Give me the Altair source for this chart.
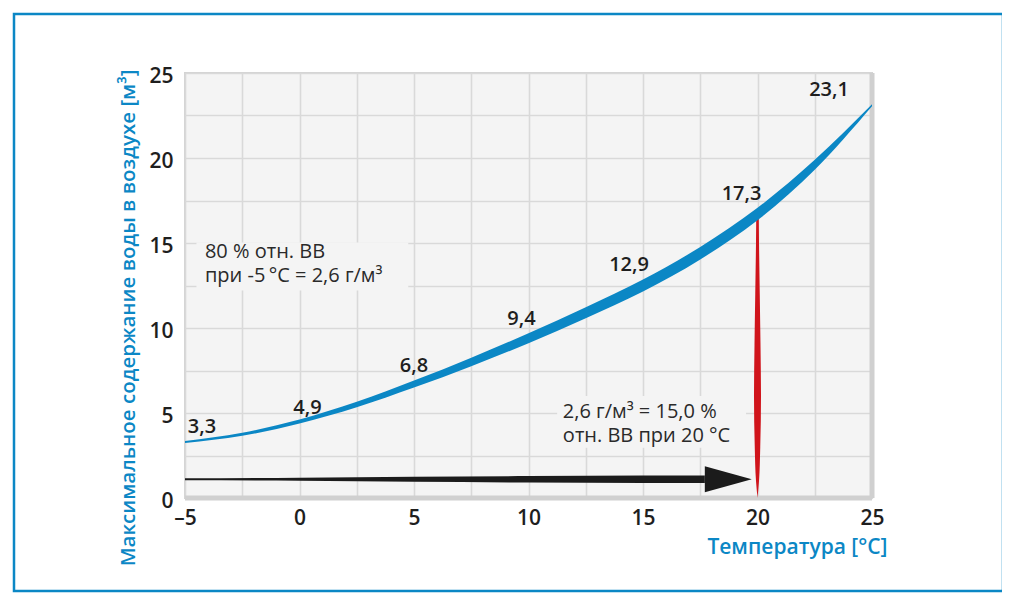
import altair as alt
import pandas as pd

# ---------------- data ----------------
TEMPS = [-5, -2.5, 0, 2.5, 5, 7.5, 10, 12.5, 15, 17.5, 20, 22.5, 25]
CURVE = [3.3, 3.75, 4.5, 5.5, 6.7, 8.0, 9.4, 10.9, 12.5, 14.4, 16.7, 19.6, 23.1]

LABEL_TEMPS = [-5, 0, 5, 10, 15, 20, 25]
LABEL_VALUES = [3.3, 4.9, 6.8, 9.4, 12.9, 17.3, 23.1]

MARKED_TEMP = 20
SPIKE_LEVELS = [0, 1, 3, 6, 9, 12, 15, 16.7]

ARROW_LEVEL = 1.1
SHAFT_TEMPS = [-5, 0, 5, 10, 15, 17.7]
HEAD_TEMPS = [17.7, 19.75]

ANNOT_LEFT = ["80 % отн. ВВ", "при -5\u2009°C = 2,6 г/м³"]
ANNOT_RIGHT = ["2,6 г/м³ = 15,0 %", "отн. ВВ при 20 °C"]

X_TICKS = [-5, -2.5, 0, 2.5, 5, 7.5, 10, 12.5, 15, 17.5, 20, 22.5, 25]
Y_TICKS = [0, 2.5, 5, 7.5, 10, 12.5, 15, 17.5, 20, 22.5, 25]

X_TITLE = "Температура [°C]"
Y_TITLE = "Максимальное содержание воды в воздухе [м³]"

# ---------------- styles ----------------
W, H = 687, 425
PX_Y = H / 25.0
PX_X = W / 30.0
BLUE = "#0b87c5"
RED = "#d0141b"
DARK = "#1e1e1e"
FONT = "Open Sans"

CURVE_WIDTH_PX = [2, 3, 4, 5.5, 7, 8.5, 10, 11, 12, 12.5, 12.5, 10, 2]
SHAFT_WIDTH_PX = [2, 3, 5, 6.5, 7.5, 7.5]
HEAD_WIDTH_PX = [26, 0]
SPIKE_WIDTH_PX = [0, 3, 5.5, 7, 6, 4.5, 3, 2.5]
LABEL_OFFSETS = [(17, -15), (8, -7), (0, -16), (-7, -19), (-14, -14), (-16, -10), (-43, -15)]

xscale = alt.Scale(domain=[-5, 25], nice=False, zero=False)
yscale = alt.Scale(domain=[0, 25], nice=False, zero=False)

x_axis = alt.Axis(
    values=X_TICKS, grid=True, ticks=False, domain=False,
    labelExpr="datum.value % 5 === 0 ? replace(format(datum.value, 'd'), '\u2212', '\u2013') : ''",
    labelFlush=False, labelOverlap=False, labelPadding=9,
    labelFont=FONT, labelFontSize=21, labelFontWeight=600, labelColor=DARK,
    title=X_TITLE, titleFont=FONT, titleFontSize=21, titleFontWeight=600, titleColor=BLUE,
    titleX=702, titleY=49, titleAlign="right", titleBaseline="middle",
    gridColor="#d9d9d9", gridWidth=1.6,
)
y_axis = alt.Axis(
    values=Y_TICKS, grid=True, ticks=False, domain=False,
    labelExpr="datum.value % 5 === 0 ? format(datum.value, 'd') : ''",
    labelOverlap=False, labelPadding=12, labelOffset=3, labelFlush=False,
    labelFont=FONT, labelFontSize=21, labelFontWeight=600, labelColor=DARK,
    title=Y_TITLE, titleFont=FONT, titleFontSize=20.5, titleFontWeight=600, titleColor=BLUE,
    titleX=-57, titleY=-4, titleAlign="right", titleBaseline="middle", titleAngle=270,
    gridColor="#d9d9d9", gridWidth=1.6,
)


def X(field):
    return alt.X(field, type="quantitative", scale=xscale, axis=x_axis)


def Y(field):
    return alt.Y(field, type="quantitative", scale=yscale, axis=y_axis)


def XD(v):
    return alt.datum(v, type="quantitative", scale=xscale, axis=x_axis)


def YD(v):
    return alt.datum(v, type="quantitative", scale=yscale, axis=y_axis)


# ---------------- tables built from the arrays ----------------
curve_df = pd.DataFrame({"t": TEMPS, "v": CURVE, "w": CURVE_WIDTH_PX})
curve_df["lo"] = curve_df["v"] - curve_df["w"] / 2 / PX_Y
curve_df["hi"] = curve_df["v"] + curve_df["w"] / 2 / PX_Y

shaft_df = pd.DataFrame({"t": SHAFT_TEMPS, "w": SHAFT_WIDTH_PX})
shaft_df["lo"] = ARROW_LEVEL - shaft_df["w"] / 2 / PX_Y
shaft_df["hi"] = ARROW_LEVEL + shaft_df["w"] / 2 / PX_Y

head_df = pd.DataFrame({"t": HEAD_TEMPS, "w": HEAD_WIDTH_PX})
head_df["lo"] = ARROW_LEVEL - head_df["w"] / 2 / PX_Y
head_df["hi"] = ARROW_LEVEL + head_df["w"] / 2 / PX_Y

spike_df = pd.DataFrame({"v": SPIKE_LEVELS, "w": SPIKE_WIDTH_PX})
spike_df["l"] = MARKED_TEMP - spike_df["w"] / 2 / PX_X
spike_df["r"] = MARKED_TEMP + spike_df["w"] / 2 / PX_X

labels_df = pd.DataFrame({
    "t": LABEL_TEMPS, "v": LABEL_VALUES,
    "txt": [f"{v:.1f}".replace(".", ",") for v in LABEL_VALUES],
})

one = pd.DataFrame({"k": [0]})

# ---------------- layers ----------------
box_fill = "#f4f4f4"
box_left = alt.Chart(one).mark_rect(fill=box_fill).encode(
    x=XD(-4.5), x2=alt.datum(4.75), y=YD(15.03), y2=alt.datum(12.2),
)
box_right = alt.Chart(one).mark_rect(fill=box_fill).encode(
    x=XD(11.25), x2=alt.datum(19.5), y=YD(6.0), y2=alt.datum(2.95),
)

border_right = alt.Chart(one).mark_rule(color="#d0d0d0", strokeWidth=5).encode(x=XD(25))
border_bottom = alt.Chart(one).mark_rule(color="#d0d0d0", strokeWidth=5).encode(y=YD(0))

curve = alt.Chart(curve_df).mark_area(color=BLUE, interpolate="monotone").encode(
    x=X("t"), y=Y("lo"), y2="hi:Q",
)
shaft = alt.Chart(shaft_df).mark_area(color="#1b1b1b", interpolate="monotone").encode(
    x=X("t"), y=Y("lo"), y2="hi:Q",
)
head = alt.Chart(head_df).mark_area(color="#1b1b1b").encode(
    x=X("t"), y=Y("lo"), y2="hi:Q",
)
spike = alt.Chart(spike_df).mark_area(color=RED, orient="horizontal", interpolate="monotone").encode(
    y=Y("v"), x=X("l"), x2="r:Q",
)

label_layers = []
for i, (dx, dy) in enumerate(LABEL_OFFSETS):
    label_layers.append(
        alt.Chart(labels_df.iloc[[i]]).mark_text(
            dx=dx, dy=dy, font=FONT, fontSize=20, fontWeight=600, color=DARK,
            align="center", baseline="middle",
        ).encode(x=X("t"), y=Y("v"), text="txt:N")
    )

annot_left = alt.Chart(one).mark_text(
    text=ANNOT_LEFT, font=FONT, fontSize=20, fontWeight=400, color="#2a2a2a",
    align="left", baseline="middle", lineHeight=24,
).encode(x=XD(-4.13), y=YD(14.47))
annot_right = alt.Chart(one).mark_text(
    text=ANNOT_RIGHT, font=FONT, fontSize=20, fontWeight=400, color="#2a2a2a",
    align="left", baseline="middle", lineHeight=24,
).encode(x=XD(11.5), y=YD(5.06))

frame = alt.Chart(one).mark_rect(fill=None, stroke=BLUE, strokeWidth=2.5).encode(
    x=alt.value(-171), x2=alt.value(818), y=alt.value(-59), y2=alt.value(518)
)

chart = alt.layer(
    box_left, box_right, border_right, border_bottom,
    shaft, head, spike, curve, *label_layers, annot_left, annot_right, frame,
).properties(
    width=W, height=H,
    autosize=alt.AutoSizeParams(type="none"),
    padding={"left": 177, "top": 65, "right": 130, "bottom": 100},
    background="white",
).configure_view(
    fill="#f4f4f4", stroke="#d3d3d3", strokeWidth=2,
)

chart.save("out.html", embed_options={"renderer": "svg", "actions": False})
